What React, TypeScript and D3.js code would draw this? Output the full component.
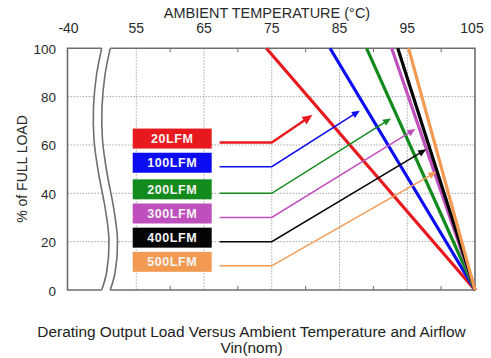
import React from "react";
import * as d3 from "d3";

const airflows = ["20LFM", "100LFM", "200LFM", "300LFM", "400LFM", "500LFM"];
const colors = ["#e8191e", "#0c0cf2", "#128a1c", "#c04fbe", "#050505", "#f39a52"];
const startTemp = [74.2, 83.6, 89.0, 92.7, 93.6, 95.2]; // temp where derating from 100% begins
const endTemp = [105, 105, 105, 105, 105, 105]; // temp at 0% load
const labelLevel = [61, 51, 40, 30, 20, 10]; // % load of leader line
const arrowTipTemp = [81.0, 88.0, 92.6, 96.2, 97.8, 99.3];
const arrowTipLoad = [72.4, 74.2, 71.0, 66.6, 58.2, 48.9];
const leaderStartTemp = 67.3;
const leaderBendTemp = 75;

const xTicks = [45, 55, 65, 75, 85, 95, 105];
const xTickLabels = ["-40", "55", "65", "75", "85", "95", "105"];
const xGrid = [55, 65, 75, 85, 95];
const xMinor = [60, 70, 80, 90, 100];
const yTicks = [0, 20, 40, 60, 80, 100];
const yGrid = [20, 40, 60, 80];

const FONT = "'Liberation Sans', Arial, sans-serif";

export default function App() {
  const x = d3.scaleLinear().domain([45, 105]).range([68.5, 475]);
  const y = d3.scaleLinear().domain([0, 100]).range([290, 48.3]);
  const x0 = x(45) - 1, x1 = x(105), yT = y(100), yB = y(0);
  const frame = "#6e6e6e";

  const leftCurve: [number, number][] = [
    [101.7, yT], [96.5, 75], [93.5, 107], [94, 140], [98.5, 173], [105, 207], [109, 240], [106.5, 273], [101.7, yB],
  ];
  const off = 8.5;
  const rightCurve: [number, number][] = leftCurve.map(([a, b]) => [a + off, b]);
  const curve = d3.line<[number, number]>().curve(d3.curveCatmullRom);
  const fillPath = curve(leftCurve) + "L" + curve(rightCurve.slice().reverse())!.slice(1) + "Z";

  const arrowHead = (sx: number, sy: number, tx: number, ty: number, len: number, w: number) => {
    const ang = Math.atan2(ty - sy, tx - sx);
    const bx = tx - len * Math.cos(ang), by = ty - len * Math.sin(ang);
    const px = -Math.sin(ang) * w / 2, py = Math.cos(ang) * w / 2;
    return `M${tx},${ty}L${bx + px},${by + py}L${bx - px},${by - py}Z`;
  };

  return (
    <svg width={491} height={358} style={{ position: "absolute", left: 0, top: 0, background: "#fff" }} fontFamily={FONT}>
      <rect width={491} height={358} fill="#fff" />
      {/* grid */}
      {xGrid.map((t) => (
        <line key={"gx" + t} x1={x(t)} x2={x(t)} y1={yT} y2={yB} stroke="#a8a8a8" strokeWidth={1} strokeDasharray="1.5,1.5" />
      ))}
      {yGrid.map((v) => (
        <line key={"gy" + v} x1={x0} x2={x1} y1={y(v)} y2={y(v)} stroke="#a8a8a8" strokeWidth={1} strokeDasharray="1.5,1.5" />
      ))}
      {xMinor.map((t) => (
        <g key={"mt" + t}>
          <line x1={x(t)} x2={x(t)} y1={yT} y2={yT + 4} stroke={frame} strokeWidth={1} />
          <line x1={x(t)} x2={x(t)} y1={yB} y2={yB - 4} stroke={frame} strokeWidth={1} />
        </g>
      ))}
      {/* break */}
      <path d={fillPath} fill="#fff" stroke="none" />
      {/* frame */}
      <path
        d={`M${leftCurve[0][0]},${yT}H${x0}V${yB}H${leftCurve[leftCurve.length - 1][0]}`}
        fill="none" stroke={frame} strokeWidth={1.6}
      />
      <path
        d={`M${rightCurve[0][0]},${yT}H${x1}V${yB}H${rightCurve[rightCurve.length - 1][0]}`}
        fill="none" stroke={frame} strokeWidth={1.6}
      />
      <path d={curve(leftCurve)!} fill="none" stroke={frame} strokeWidth={1.6} />
      <path d={curve(rightCurve)!} fill="none" stroke={frame} strokeWidth={1.6} />

      {/* derating lines */}
      {airflows.map((a, i) => (
        <line key={"d" + a} x1={x(startTemp[i])} y1={y(100)} x2={x(endTemp[i])} y2={y(0)} stroke={colors[i]} strokeWidth={3.2} />
      ))}

      {/* leader arrows */}
      {airflows.map((a, i) => {
        const sx = x(leaderStartTemp), sy = y(labelLevel[i]);
        const bx = x(leaderBendTemp);
        const tx = x(arrowTipTemp[i]), ty = y(arrowTipLoad[i]);
        const lw = i === 0 ? 2.4 : 1.5;
        const len = i === 0 ? 10 : 8;
        const hw = i === 0 ? 9 : 7;
        const ang = Math.atan2(ty - sy, tx - bx);
        const ex = tx - (len - 1) * Math.cos(ang), ey = ty - (len - 1) * Math.sin(ang);
        return (
          <g key={"a" + a}>
            <path d={`M${sx},${sy}H${bx}L${ex},${ey}`} fill="none" stroke={colors[i]} strokeWidth={lw} />
            <path d={arrowHead(bx, sy, tx, ty, len, hw)} fill={colors[i]} />
          </g>
        );
      })}

      {/* legend boxes */}
      {airflows.map((a, i) => {
        const cy = y(labelLevel[i]) - 4;
        return (
          <g key={"b" + a}>
            <rect x={132.7} y={cy - 10} width={79} height={20} fill={colors[i]} />
            <text x={172.2} y={cy + 4.5} textAnchor="middle" fill="#f4f4f4" fontSize={12.5} fontWeight="bold" letterSpacing={0.6}>
              {a}
            </text>
          </g>
        );
      })}

      {/* axis labels */}
      {xTicks.map((t, i) => (
        <text key={"xl" + t} x={x(t) + (t === 105 ? -3 : 0)} y={33} textAnchor="middle" fontSize={14} fill="#2a2a2a">
          {xTickLabels[i]}
        </text>
      ))}
      {yTicks.map((v) => (
        <text key={"yl" + v} x={56} y={y(v) + 5.5} textAnchor="end" fontSize={13.5} fill="#2a2a2a">
          {v}
        </text>
      ))}
      <text x={267} y={18} textAnchor="middle" fontSize={14.5} fill="#2a2a2a">AMBIENT TEMPERATURE (°C)</text>
      <text transform="translate(27,169) rotate(-90)" textAnchor="middle" fontSize={14} fill="#2a2a2a">% of FULL LOAD</text>
      <text x={251.5} y={337} textAnchor="middle" fontSize={15.4} fill="#222">
        Derating Output Load Versus Ambient Temperature and Airflow
      </text>
      <text x={251.5} y={353} textAnchor="middle" fontSize={15.4} fill="#222">Vin(nom)</text>
    </svg>
  );
}
